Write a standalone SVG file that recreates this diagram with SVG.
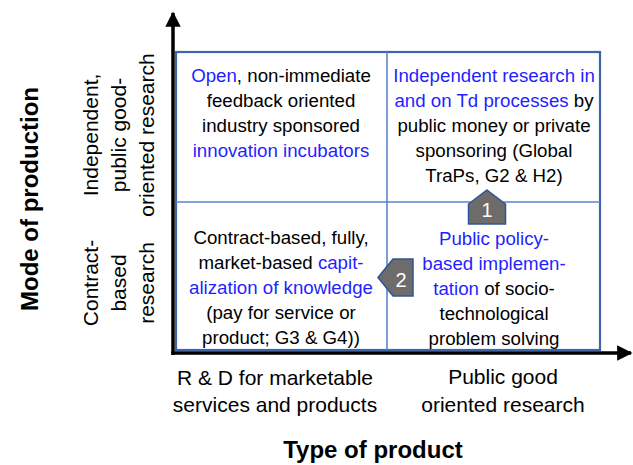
<svg xmlns="http://www.w3.org/2000/svg" width="633" height="465" viewBox="0 0 633 465">
<style>
text{font-family:"Liberation Sans",Arial,sans-serif;fill:#000}
.c{font-size:18.7px;text-anchor:middle}
.b{fill:#1f1fff}
.lab{font-size:21px;text-anchor:middle}
.ttl{font-size:24px;font-weight:bold;text-anchor:middle}
.num{font-size:20px;fill:#fff;text-anchor:middle}
.grid{fill:none;stroke:#5b84cc;stroke-width:1.6}
.axis{stroke:#000;stroke-width:3.5;fill:none}
.badge{fill:#6e6b6b;stroke:#2f5597;stroke-width:1.5}
</style>
<defs>
<marker id="ah" viewBox="0 0 10 10" refX="9" refY="5" markerWidth="4.4" markerHeight="4.4" orient="auto" markerUnits="strokeWidth">
<path d="M0,0 L10,5 L0,10 Z" fill="#000"/>
</marker>
</defs>
<rect width="633" height="465" fill="#fff"/>
<g id="grid">
<rect x="176" y="52" width="424" height="298" fill="#fff" stroke="#3f64a8" stroke-width="2.2"/>
<line class="grid" x1="387" y1="52" x2="387" y2="350"/>
<line class="grid" x1="176" y1="202" x2="600" y2="202"/>
</g>
<g id="connectors">
<line class="axis" x1="173" y1="355" x2="173" y2="13" marker-end="url(#ah)"/>
<line class="axis" x1="171.3" y1="353" x2="631" y2="353" marker-end="url(#ah)"/>
</g>
<g id="cell-top-left">
<text class="c" x="281" y="82"><tspan class="b">Open</tspan>, non-immediate</text>
<text class="c" x="281" y="107">feedback oriented</text>
<text class="c" x="281" y="132">industry sponsored</text>
<text class="c b" x="281" y="157">innovation incubators</text>
</g>
<g id="cell-top-right">
<text class="c b" x="494" y="82">Independent research in</text>
<text class="c" x="494" y="107"><tspan class="b">and on Td processes</tspan> by</text>
<text class="c" x="494" y="132">public money or private</text>
<text class="c" x="494" y="157">sponsoring (Global</text>
<text class="c" x="494" y="182">TraPs, G2 &amp; H2)</text>
</g>
<g id="cell-bottom-left">
<text class="c" x="281" y="244">Contract-based, fully,</text>
<text class="c" x="281" y="269">market-based <tspan class="b">capit-</tspan></text>
<text class="c b" x="281" y="294">alization of knowledge</text>
<text class="c" x="281" y="319">(pay for service or</text>
<text class="c" x="281" y="344">product; G3 &amp; G4))</text>
</g>
<g id="cell-bottom-right">
<text class="c b" x="494" y="245">Public policy-</text>
<text class="c b" x="494" y="270">based implemen-</text>
<text class="c" x="494" y="295"><tspan class="b">tation</tspan> of socio-</text>
<text class="c" x="494" y="320">technological</text>
<text class="c" x="494" y="345">problem solving</text>
</g>
<g id="badge-1">
<polygon class="badge" points="487,190 505.5,204 505.5,224 468.5,224 468.5,204"/>
<text class="num" x="487" y="217">1</text>
</g>
<g id="badge-2">
<polygon class="badge" points="378,277.5 393,259 413,259 413,296 393,296"/>
<text class="num" x="401" y="287">2</text>
</g>
<g id="y-axis-title">
<text class="ttl" transform="translate(38,199) rotate(-90)">Mode of production</text>
</g>
<g id="y-label-top">
<text class="lab" transform="translate(98,135) rotate(-90)">Independent,</text>
<text class="lab" transform="translate(126,135) rotate(-90)">public good-</text>
<text class="lab" transform="translate(154,135) rotate(-90)">oriented research</text>
</g>
<g id="y-label-bottom">
<text class="lab" transform="translate(98,283) rotate(-90)">Contract-</text>
<text class="lab" transform="translate(126,283) rotate(-90)">based</text>
<text class="lab" transform="translate(154,283) rotate(-90)">research</text>
</g>
<g id="x-label-left">
<text class="lab" x="275" y="385">R &amp; D for marketable</text>
<text class="lab" x="275" y="412">services and products</text>
</g>
<g id="x-label-right">
<text class="lab" x="503" y="384">Public good</text>
<text class="lab" x="503" y="412">oriented research</text>
</g>
<g id="x-axis-title">
<text class="ttl" x="373" y="458">Type of product</text>
</g>
</svg>
